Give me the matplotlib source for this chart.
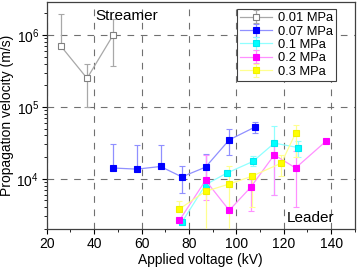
import numpy as np
import matplotlib
matplotlib.use('Agg')
import matplotlib.pyplot as plt
from matplotlib.ticker import MultipleLocator, LogLocator

plt.rcParams['font.family'] = ['Liberation Sans', 'DejaVu Sans']
plt.rcParams['mathtext.fontset'] = 'custom'
plt.rcParams['mathtext.rm'] = 'Liberation Sans'

# data: x, y, lower bound, upper bound of the error bar
labels = ['0.01 MPa', '0.07 MPa', '0.1 MPa', '0.2 MPa', '0.3 MPa']

x_001 = [26, 37, 48]
y_001 = [7.0e5, 2.5e5, 1.0e6]
lo_001 = [7.0e5, 1.0e5, 3.75e5]
hi_001 = [1.95e6, 4.0e5, 1.65e6]

x_007 = [48, 58, 68, 77, 87, 97, 108]
y_007 = [1.41e4, 1.36e4, 1.48e4, 1.06e4, 1.45e4, 3.48e4, 5.27e4]
lo_007 = [1.41e4, 1.36e4, 1.48e4, 6.3e3, 1.0e4, 2.15e4, 4.3e4]
hi_007 = [3.06e4, 2.96e4, 2.96e4, 1.48e4, 2.22e4, 4.9e4, 6.1e4]

x_01 = [77, 87, 96, 107, 116, 126]
y_01 = [2.47e3, 8.25e3, 1.2e4, 1.74e4, 3.13e4, 2.72e4]
lo_01 = [2.3e3, 8.25e3, 1.2e4, 1.48e4, 5.9e3, 2.0e4]
hi_01 = [2.6e3, 8.25e3, 1.2e4, 2.04e4, 5.5e4, 3.4e4]

x_02 = [76, 87, 97, 106, 116, 125, 138]
y_02 = [2.64e3, 9.5e3, 3.63e3, 7.57e3, 2.15e4, 1.41e4, 3.37e4]
lo_02 = [2.64e3, 5.0e3, 3.63e3, 3.5e3, 5.9e3, 4.1e3, 3.37e4]
hi_02 = [2.64e3, 2.15e4, 3.63e3, 1.0e4, 3.1e4, 2.45e4, 3.37e4]

x_03 = [76, 87, 97, 106.5, 119, 125]
y_03 = [3.8e3, 6.67e3, 8.44e3, 1.08e4, 1.65e4, 4.32e4]
lo_03 = [3.8e3, 1.9e3, 1.5e3, 4.1e3, 1.08e4, 2.0e4]
hi_03 = [4.95e3, 6.67e3, 1.48e4, 1.08e4, 2.15e4, 5.6e4]

series = [
    (x_001, y_001, lo_001, hi_001, '#a8a8a8', '#808080', 'white'),
    (x_007, y_007, lo_007, hi_007, '#9090ff', '#0000ff', '#0000ff'),
    (x_01, y_01, lo_01, hi_01, '#90ffff', '#00e8f0', '#00ffff'),
    (x_02, y_02, lo_02, hi_02, '#ff90ff', '#ff00ff', '#ff00ff'),
    (x_03, y_03, lo_03, hi_03, '#ffff90', '#f0f000', '#ffff00'),
]

fig = plt.figure(figsize=(3.57, 2.69), dpi=100)
ax = fig.add_axes([0.131, 0.149, 0.863, 0.844])

for (x, y, lo, hi, lc, mec, mfc), lab in zip(series, labels):
    y = np.array(y)
    yerr = [y - np.array(lo), np.array(hi) - y]
    ax.errorbar(x, y, yerr=yerr, color=lc, lw=0.9, elinewidth=0.9, capsize=2,
                capthick=0.9, marker='s', ms=4, mec=mec, mfc=mfc, mew=0.8,
                label=lab, zorder=3)

ax.set_yscale('log')
ax.set_xlim(20, 150)
ax.set_ylim(2000, 2.9e6)
ax.xaxis.set_major_locator(MultipleLocator(20))
ax.xaxis.set_minor_locator(MultipleLocator(10))
ax.yaxis.set_major_locator(LogLocator(base=10, numticks=10))
ax.yaxis.set_minor_locator(LogLocator(base=10, subs=np.arange(2, 10), numticks=10))

ax.grid(True, which='major', color='#707070', ls=(0, (6, 6)), lw=0.8)
ax.tick_params(which='major', direction='out', length=3.5, width=0.8, labelsize=10, pad=2)
ax.tick_params(which='minor', direction='out', length=2, width=0.6)
for s in ax.spines.values():
    s.set_color('#404040')
    s.set_linewidth(0.9)

ax.set_xlabel('Applied voltage (kV)', fontsize=10, labelpad=2)
ax.set_ylabel('Propagation velocity (m/s)', fontsize=10, labelpad=2)

ax.text(40.3, 1.85e6, 'Streamer', fontsize=11, ha='left', va='center')
ax.text(131.5, 2.85e3, 'Leader', fontsize=11, ha='center', va='center')

leg = ax.legend(loc='upper left', bbox_to_anchor=(0.596, 0.997), fontsize=9.3,
                handlelength=2.5, labelspacing=0.1, handletextpad=0.4,
                borderpad=0.25, fancybox=False, framealpha=1, edgecolor='#404040')
leg.get_frame().set_linewidth(0.8)

fig.savefig('out.png', dpi=100)
